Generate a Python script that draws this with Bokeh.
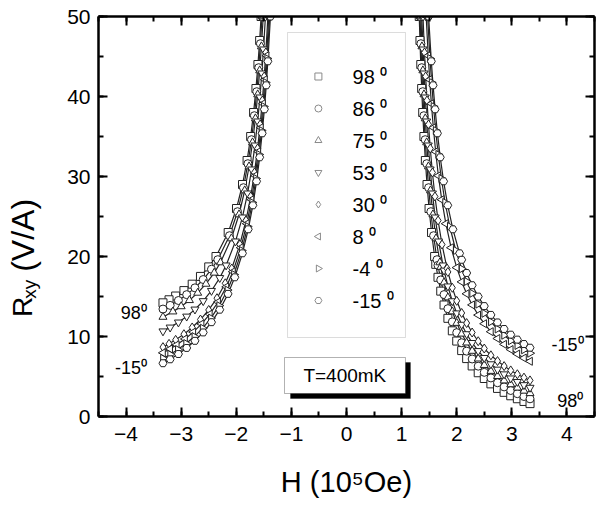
import math
from bokeh.plotting import figure
from bokeh.layouts import row
from bokeh.models import (LinearAxis, SingleIntervalTicker, Range1d, BoxAnnotation, Label,
                          ColumnDataSource)
from bokeh.core.properties import value
from bokeh.embed import file_html
from bokeh.resources import INLINE

FONT = "Liberation Sans"

# ---------------- data ----------------
angles = ["98", "86", "75", "53", "30", "8", "-4", "-15"]

# left branch (H < 0), H in 1e5 Oe, R in V/A
h_left_98 = [-1.55, -1.576, -1.607, -1.643, -1.686, -1.739, -1.804, -1.887, -1.996, -2.147, -2.368, -2.5, -2.65, -2.8, -2.95, -3.1, -3.22, -3.33]
r_left_98 = [50, 47, 44, 41, 38, 35, 32, 29, 26, 23, 20, 18.70, 17.51, 16.54, 15.74, 15.06, 14.59, 14.21]
h_left_86 = [-1.533, -1.562, -1.593, -1.629, -1.672, -1.724, -1.789, -1.870, -1.977, -2.123, -2.335, -2.45, -2.6, -2.75, -2.9, -3.05, -3.2, -3.33]
r_left_86 = [50, 46.6, 43.6, 40.6, 37.6, 34.6, 31.6, 28.6, 25.6, 22.6, 19.6, 18.41, 17.12, 16.08, 15.23, 14.50, 13.89, 13.43]
h_left_75 = [-1.511, -1.544, -1.575, -1.611, -1.653, -1.705, -1.768, -1.847, -1.950, -2.089, -2.287, -2.4, -2.55, -2.7, -2.85, -3.0, -3.15, -3.33]
r_left_75 = [50, 46.25, 43.25, 40.25, 37.25, 34.25, 31.25, 28.25, 25.25, 22.25, 19.25, 17.96, 16.57, 15.45, 14.53, 13.76, 13.11, 12.44]
h_left_53 = [-1.471, -1.506, -1.536, -1.571, -1.612, -1.661, -1.721, -1.795, -1.889, -2.014, -2.184, -2.3, -2.45, -2.6, -2.75, -2.9, -3.05, -3.2, -3.33]
r_left_53 = [50, 45.9, 42.9, 39.9, 36.9, 33.9, 30.9, 27.9, 24.9, 21.9, 18.9, 17.33, 15.72, 14.44, 13.39, 12.51, 11.77, 11.14, 10.66]
h_left_30 = [-1.426, -1.464, -1.493, -1.527, -1.567, -1.613, -1.670, -1.738, -1.824, -1.935, -2.082, -2.2, -2.35, -2.5, -2.65, -2.8, -2.95, -3.1, -3.22, -3.33]
r_left_30 = [50, 45.5, 42.5, 39.5, 36.5, 33.5, 30.5, 27.5, 24.5, 21.5, 18.5, 16.65, 14.79, 13.32, 12.12, 11.13, 10.29, 9.58, 9.08, 8.67]
h_left_8 = [-1.410, -1.450, -1.480, -1.514, -1.553, -1.600, -1.656, -1.724, -1.808, -1.917, -2.061, -2.18, -2.33, -2.48, -2.63, -2.78, -2.93, -3.08, -3.2, -3.33]
r_left_8 = [50, 45.1, 42.1, 39.1, 36.1, 33.1, 30.1, 27.1, 24.1, 21.1, 18.1, 16.21, 14.31, 12.79, 11.57, 10.55, 9.69, 8.96, 8.45, 7.96]
h_left_m4 = [-1.394, -1.438, -1.467, -1.501, -1.541, -1.587, -1.643, -1.710, -1.794, -1.901, -2.042, -2.16, -2.31, -2.46, -2.61, -2.76, -2.91, -3.06, -3.2, -3.33]
r_left_m4 = [50, 44.75, 41.75, 38.75, 35.75, 32.75, 29.75, 26.75, 23.75, 20.75, 17.75, 15.81, 13.85, 12.30, 11.04, 9.99, 9.12, 8.37, 7.76, 7.26]
h_left_m15 = [-1.380, -1.427, -1.456, -1.490, -1.530, -1.576, -1.632, -1.699, -1.783, -1.888, -2.027, -2.15, -2.3, -2.45, -2.6, -2.75, -2.9, -3.05, -3.2, -3.33]
r_left_m15 = [50, 44.4, 41.4, 38.4, 35.4, 32.4, 29.4, 26.4, 23.4, 20.4, 17.4, 15.33, 13.35, 11.79, 10.51, 9.46, 8.57, 7.81, 7.15, 6.66]

# right branch (H > 0)
h_right_98 = [1.320, 1.333, 1.348, 1.364, 1.383, 1.405, 1.431, 1.461, 1.498, 1.543, 1.599, 1.62, 1.66, 1.71, 1.77, 1.84, 1.92, 2.0, 2.09, 2.18, 2.28, 2.39, 2.5, 2.62, 2.74, 2.86, 2.98, 3.1, 3.22, 3.33]
r_right_98 = [50, 47, 44, 41, 38, 35, 32, 29, 26, 23, 20, 19.02, 17.40, 15.67, 13.94, 12.27, 10.71, 9.43, 8.24, 7.24, 6.32, 5.47, 4.75, 4.08, 3.51, 3.02, 2.59, 2.22, 1.88, 1.61]
h_right_86 = [1.334, 1.350, 1.365, 1.384, 1.404, 1.428, 1.456, 1.490, 1.530, 1.580, 1.642, 1.66, 1.71, 1.77, 1.84, 1.92, 2.0, 2.09, 2.18, 2.28, 2.39, 2.5, 2.62, 2.74, 2.86, 2.98, 3.1, 3.22, 3.33]
r_right_86 = [50, 46.6, 43.6, 40.6, 37.6, 34.6, 31.6, 28.6, 25.6, 22.6, 19.6, 18.90, 17.07, 15.24, 13.48, 11.83, 10.48, 9.22, 8.17, 7.19, 6.29, 5.52, 4.82, 4.22, 3.70, 3.25, 2.85, 2.50, 2.21]
h_right_75 = [1.350, 1.369, 1.386, 1.406, 1.429, 1.455, 1.486, 1.524, 1.568, 1.624, 1.694, 1.71, 1.77, 1.84, 1.92, 2.0, 2.09, 2.18, 2.28, 2.39, 2.5, 2.62, 2.74, 2.86, 2.98, 3.1, 3.22, 3.33]
r_right_75 = [50, 46.25, 43.25, 40.25, 37.25, 34.25, 31.25, 28.25, 25.25, 22.25, 19.25, 18.68, 16.74, 14.87, 13.12, 11.68, 10.34, 9.23, 8.19, 7.23, 6.42, 5.68, 5.04, 4.49, 4.01, 3.59, 3.21, 2.90]
h_right_53 = [1.366, 1.389, 1.408, 1.430, 1.455, 1.484, 1.518, 1.559, 1.609, 1.671, 1.751, 1.77, 1.84, 1.92, 2.0, 2.09, 2.18, 2.28, 2.39, 2.5, 2.62, 2.74, 2.86, 2.98, 3.1, 3.22, 3.33]
r_right_53 = [50, 45.9, 42.9, 39.9, 36.9, 33.9, 30.9, 27.9, 24.9, 21.9, 18.9, 18.26, 16.28, 14.43, 12.91, 11.49, 10.31, 9.21, 8.20, 7.34, 6.55, 5.88, 5.29, 4.78, 4.34, 3.94, 3.61]
h_right_30 = [1.388, 1.415, 1.436, 1.460, 1.488, 1.520, 1.559, 1.605, 1.662, 1.733, 1.825, 1.84, 1.92, 2.0, 2.09, 2.18, 2.28, 2.39, 2.5, 2.62, 2.74, 2.86, 2.98, 3.1, 3.22, 3.33]
r_right_30 = [50, 45.5, 42.5, 39.5, 36.5, 33.5, 30.5, 27.5, 24.5, 21.5, 18.5, 18.07, 16.09, 14.46, 12.94, 11.68, 10.50, 9.41, 8.50, 7.65, 6.93, 6.30, 5.76, 5.28, 4.86, 4.51]
h_right_8 = [1.446, 1.483, 1.510, 1.540, 1.576, 1.618, 1.667, 1.728, 1.803, 1.898, 2.0, 2.09, 2.18, 2.28, 2.39, 2.5, 2.62, 2.74, 2.86, 2.98, 3.1, 3.22, 3.33]
r_right_8 = [50, 45.1, 42.1, 39.1, 36.1, 33.1, 30.1, 27.1, 24.1, 21.1, 18.61, 16.83, 15.34, 13.95, 12.68, 11.60, 10.60, 9.75, 9.02, 8.37, 7.81, 7.31, 6.90]
h_right_m4 = [1.472, 1.515, 1.545, 1.579, 1.618, 1.665, 1.721, 1.789, 1.874, 1.983, 2.09, 2.18, 2.28, 2.39, 2.5, 2.62, 2.74, 2.86, 2.98, 3.1, 3.22, 3.33]
r_right_m4 = [50, 44.75, 41.75, 38.75, 35.75, 32.75, 29.75, 26.75, 23.75, 20.75, 18.46, 16.88, 15.40, 14.05, 12.90, 11.84, 10.94, 10.16, 9.47, 8.88, 8.34, 7.91]
h_right_m15 = [1.490, 1.539, 1.571, 1.608, 1.650, 1.701, 1.762, 1.837, 1.931, 2.052, 2.09, 2.18, 2.28, 2.39, 2.5, 2.62, 2.74, 2.86, 2.98, 3.1, 3.22, 3.33]
r_right_m15 = [50, 44.4, 41.4, 38.4, 35.4, 32.4, 29.4, 26.4, 23.4, 20.4, 19.59, 17.94, 16.41, 14.99, 13.80, 12.70, 11.76, 10.94, 10.23, 9.61, 9.06, 8.60]

# curve-end annotations
ann_text = ["98\u2070", "-15\u2070", "-15\u2070", "98\u2070"]
ann_x = [-3.86, -3.91, 4.01, 4.06]
ann_y = [12.9, 6.1, 8.9, 2.0]

left_h = [h_left_98, h_left_86, h_left_75, h_left_53, h_left_30, h_left_8, h_left_m4, h_left_m15]
left_r = [r_left_98, r_left_86, r_left_75, r_left_53, r_left_30, r_left_8, r_left_m4, r_left_m15]
right_h = [h_right_98, h_right_86, h_right_75, h_right_53, h_right_30, h_right_8, h_right_m4, h_right_m15]
right_r = [r_right_98, r_right_86, r_right_75, r_right_53, r_right_30, r_right_8, r_right_m4, r_right_m15]

# ---------------- styles / layout ----------------
markers = ["square", "circle", "triangle", "inverted_triangle", "diamond", "triangle", "triangle", "hex"]
marker_angles = [0, 0, 0, 0, 0, math.pi / 2, -math.pi / 2, 0]
marker_sizes = [8, 8, 8, 8, 9, 8, 8, 8]
DATA_LINE = "#222222"
LEGEND_GRAY = "#8a8a8a"
# legend key placement (plot units): glyph column, label column, row centres
legend_glyph_x = -0.51
legend_label_x = 0.11
legend_rows_y = [42.5, 38.5, 34.5, 30.5, 26.5, 22.5, 18.5, 14.5]

# ---------------- main figure ----------------
p = figure(width=540, height=506, x_range=Range1d(-4.5, 4.5), y_range=Range1d(0, 50),
           output_backend="svg", toolbar_location=None,
           x_axis_location=None, y_axis_location=None,
           min_border_left=38, min_border_right=6, min_border_top=16, min_border_bottom=90)
p.background_fill_color = "white"
p.border_fill_color = "white"
p.outline_line_color = None
p.xgrid.visible = False
p.ygrid.visible = False

bottom_axis = LinearAxis(axis_label="H (10\u2075Oe)")
left_axis = LinearAxis()
top_axis = LinearAxis()
right_axis = LinearAxis()
p.add_layout(bottom_axis, "below")
p.add_layout(left_axis, "left")
p.add_layout(top_axis, "above")
p.add_layout(right_axis, "right")

for ax in [bottom_axis, top_axis]:
    ax.ticker = SingleIntervalTicker(interval=1, num_minor_ticks=2)
for ax in [left_axis, right_axis]:
    ax.ticker = SingleIntervalTicker(interval=10, num_minor_ticks=2)

for ax in [bottom_axis, left_axis, top_axis, right_axis]:
    ax.axis_line_width = 2.5
    ax.axis_line_color = "black"
    ax.major_tick_in = 9
    ax.major_tick_out = 0
    ax.minor_tick_in = 5
    ax.minor_tick_out = 0
    ax.major_tick_line_width = 2
    ax.minor_tick_line_width = 2
    ax.major_label_text_font = FONT
    ax.major_label_text_font_size = "21px"
    ax.major_label_text_color = "black"

for ax in [top_axis, right_axis]:
    ax.major_label_text_font_size = "1px"
    ax.major_label_text_color = None
    ax.major_label_standoff = 0

bottom_axis.major_label_standoff = 10
left_axis.major_label_standoff = 8
bottom_axis.axis_label_standoff = 22
bottom_axis.axis_label_text_font = FONT
bottom_axis.axis_label_text_font_size = "29px"
bottom_axis.axis_label_text_font_style = "normal"
bottom_axis.axis_label_text_color = "black"

# legend frame (underneath the keys)
p.add_layout(BoxAnnotation(left=-1.07, right=1.07, bottom=9.875, top=48.0,
                           fill_color="white", fill_alpha=1.0, level="underlay",
                           line_color=LEGEND_GRAY, line_width=1))

# data: thin connecting trace under each chain of hollow markers
for i in range(len(angles)):
    p.line(left_h[i], left_r[i], line_color=DATA_LINE, line_width=1.2)
    p.line(right_h[i], right_r[i], line_color=DATA_LINE, line_width=1.2)
for i in range(len(angles)):
    p.scatter(left_h[i] + right_h[i], left_r[i] + right_r[i], marker=markers[i],
              angle=marker_angles[i], size=marker_sizes[i], line_color=DATA_LINE,
              line_width=1.0, fill_color="white")

# legend keys (drawn so that the side-pointing triangles keep their orientation)
key_src = ColumnDataSource(dict(x=[legend_glyph_x] * len(angles), y=legend_rows_y,
                                marker=markers, angle=marker_angles))
p.scatter("x", "y", source=key_src, marker="marker", angle="angle", size=7,
          line_color=LEGEND_GRAY, line_width=1, fill_color="white")
p.text([legend_label_x] * len(angles), legend_rows_y,
       text=[a + " \u2070" for a in angles], text_align="left", text_baseline="middle",
       text_font=value(FONT), text_font_size="20px", text_color="black")

# T = 400 mK box with shadow
p.add_layout(BoxAnnotation(left=-1.016, right=1.16, bottom=2.25, top=6.75,
                           fill_color="black", fill_alpha=1.0, line_color="black"))
p.add_layout(BoxAnnotation(left=-1.125, right=1.07, bottom=2.875, top=7.375,
                           fill_color="white", fill_alpha=1.0, line_color="black", line_width=1))
p.add_layout(Label(x=-0.03, y=5.1, text="T=400mK", text_align="center", text_baseline="middle",
                   text_font=FONT, text_font_size="19px", text_color="black"))

# curve end annotations
p.text(ann_x, ann_y, text=ann_text, text_align="center", text_baseline="middle",
       text_font=value(FONT), text_font_size="18px", text_color="black")

# ---------------- y-axis title panel ----------------
t = figure(width=60, height=506, x_range=Range1d(0, 60), y_range=Range1d(0, 506),
           output_backend="svg", toolbar_location=None,
           x_axis_location=None, y_axis_location=None,
           min_border_left=0, min_border_right=0, min_border_top=0, min_border_bottom=0)
t.outline_line_color = None
t.background_fill_color = "white"
t.border_fill_color = "white"
t.xgrid.visible = False
t.ygrid.visible = False
t.text([22], [126], text=["R"], angle=math.pi / 2, text_align="left",
       text_baseline="alphabetic", text_font=value(FONT), text_font_size="28px",
       text_color="black")
t.text([29], [149], text=["xy"], angle=math.pi / 2, text_align="left",
       text_baseline="alphabetic", text_font=value(FONT), text_font_size="19px",
       text_color="black")
t.text([22], [183], text=["(V/A)"], angle=math.pi / 2, text_align="left",
       text_baseline="alphabetic", text_font=value(FONT), text_font_size="32px",
       text_color="black")

layout = row(t, p, spacing=0)
open("out.html", "w").write(file_html(layout, INLINE))
